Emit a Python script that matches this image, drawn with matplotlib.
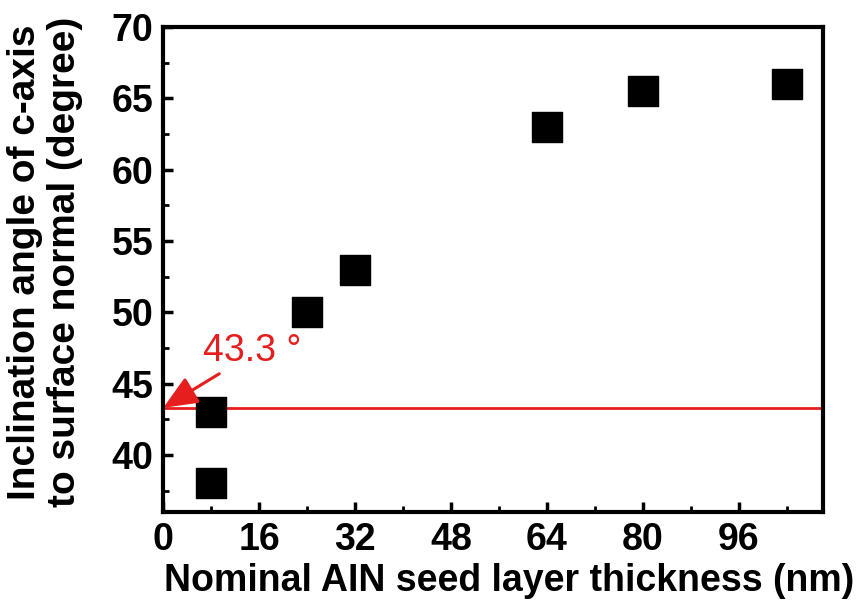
import matplotlib.pyplot as plt
from matplotlib.ticker import MultipleLocator

# data
thickness = [8, 8, 24, 32, 64, 80, 104]
angle = [38.0, 43.0, 50.0, 53.0, 63.0, 65.5, 66.0]
ref_angle = 43.3
x_ticks = [0, 16, 32, 48, 64, 80, 96]
y_ticks = [40, 45, 50, 55, 60, 65, 70]

plt.rcParams['font.family'] = ['Liberation Sans', 'DejaVu Sans']

fig = plt.figure(figsize=(8.59, 6.03), dpi=100)
ax = fig.add_axes([0.19, 0.151, 0.768, 0.804])

ax.scatter(thickness, angle, marker='s', s=440, color='black', zorder=3)
ax.axhline(ref_angle, color='#e61e1e', lw=2)
ax.annotate('43.3 °', xy=(0, ref_angle), xytext=(6.6, 47.3),
            color='#e61e1e', fontsize=27,
            va='center', ha='left',
            arrowprops=dict(arrowstyle='-|>,head_length=0.7,head_width=0.3',
                            color='#e61e1e', lw=2.2,
                            mutation_scale=30, shrinkA=3, shrinkB=0,
                            relpos=(0.25, 0.0)))

ax.set_xlim(0, 110)
ax.set_ylim(36, 70)
ax.set_xticks(x_ticks)
ax.set_yticks(y_ticks)
ax.xaxis.set_minor_locator(MultipleLocator(8))
ax.yaxis.set_minor_locator(MultipleLocator(2.5))
ax.tick_params(which='major', direction='in', length=7, width=2.5,
               labelsize=27, pad=7)
ax.tick_params(which='minor', direction='in', length=4, width=2)
for lab in ax.get_xticklabels() + ax.get_yticklabels():
    lab.set_fontweight('bold')
for s in ax.spines.values():
    s.set_linewidth(3)

ax.set_xlabel('Nominal AIN seed layer thickness (nm)', fontsize=27,
              fontweight='bold')
ax.xaxis.set_label_coords(0.524, -0.105)
ax.xaxis.label.set_va('top')
ax.set_ylabel('Inclination angle of c-axis\nto surface normal (degree)',
              fontsize=28, fontweight='bold', linespacing=1.15)
ax.yaxis.set_label_coords(-0.122, 0.515)

fig.savefig('out.png')
